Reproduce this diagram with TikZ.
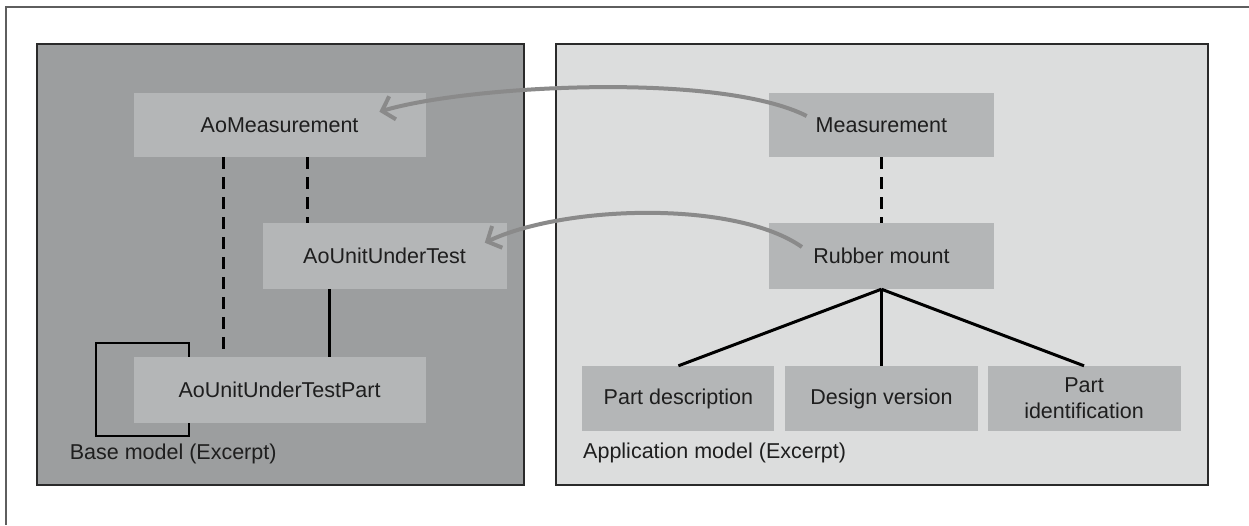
\documentclass[tikz,border=0pt]{standalone}
\usepackage{fontspec}
\setmainfont{Liberation Sans}
\usetikzlibrary{arrows.meta}

\definecolor{frameline}{HTML}{5E5E5E}
\definecolor{panelline}{HTML}{2A2A2A}
\definecolor{basebg}{HTML}{9C9E9F}
\definecolor{appbg}{HTML}{DCDDDD}
\definecolor{boxfill}{HTML}{B4B6B7}
\definecolor{linkgray}{HTML}{8A8A8A}
\definecolor{ink}{HTML}{1E1E1E}

\tikzset{
  panel/.style={draw=panelline, line width=2pt},
  entity/.style={rectangle, fill=boxfill, inner sep=0pt, text=ink,
    font=\fontsize{21.5}{26}\selectfont, align=center},
  caption/.style={anchor=west, inner sep=0pt, text=ink,
    font=\fontsize{21.5}{26}\selectfont},
  dashlink/.style={draw=black, line width=3pt, dash pattern=on 12pt off 8pt},
  solidlink/.style={draw=black, line width=3pt},
  looplink/.style={draw=black, line width=1.8pt},
  maplink/.style={draw=linkgray, line width=4pt,
    -{Straight Barb[length=11pt, width=24pt, line width=4pt]}},
}

\begin{document}
\begin{tikzpicture}[x=1pt, y=-1pt]
  \useasboundingbox (0,0) rectangle (1249,525);
  \fill[white] (0,0) rectangle (1249,525);

  % outer frame (top and left edges)
  \draw[frameline, line width=1.5pt] (1249,7) -- (6,7) -- (6,525);

  % panels
  \draw[panel, fill=basebg] (37,44) rectangle (523.6,485);
  \draw[panel, fill=appbg] (556.3,44) rectangle (1208.3,485);

  % self association of the unit-under-test part
  \draw[looplink] (189.3,357) -- (189.3,343) -- (95.7,343) -- (95.7,436)
    -- (189.3,436) -- (189.3,423);

  % base model entities
  \node[entity, minimum width=292pt, minimum height=64pt] (aomeas) at (279.6,125) {AoMeasurement};
  \node[entity, minimum width=244pt, minimum height=66pt] (aouut) at (384.5,256) {AoUnitUnderTest};
  \node[entity, minimum width=292pt, minimum height=66pt] (aopart) at (279.6,390) {AoUnitUnderTestPart};

  % application model entities
  \node[entity, minimum width=225pt, minimum height=64pt] (meas) at (881.4,125) {Measurement};
  \node[entity, minimum width=225pt, minimum height=66pt] (rubber) at (881.4,256) {Rubber mount};
  \node[entity, minimum width=192pt, minimum height=65pt] (pdesc) at (678.4,398.5) {Part description};
  \node[entity, minimum width=193pt, minimum height=65pt] (dver) at (881.4,398.5) {Design version};
  \node[entity, minimum width=193pt, minimum height=65pt] (pid) at (1084,398.5) {Part\\identification};

  % panel captions
  \node[caption] (basecap) at (69.6,454) {Base model (Excerpt)};
  \node[caption] (appcap) at (583,453) {Application model (Excerpt)};

  % base model relations
  \draw[dashlink] ([xshift=-56.4pt]aomeas.south) -- ([xshift=-56.4pt]aopart.north);
  \draw[dashlink] ([xshift=28.3pt]aomeas.south) -- ([xshift=28.3pt]aomeas.south |- aouut.north);
  \draw[solidlink] ([xshift=-55.5pt]aouut.south) -- ([xshift=-55.5pt]aouut.south |- aopart.north);

  % application model relations
  \draw[dashlink] (meas.south) -- (rubber.north);
  \draw[solidlink] (rubber.south) -- (pdesc.north);
  \draw[solidlink] (rubber.south) -- (dver.north);
  \draw[solidlink] (rubber.south) -- (pid.north);

  % mappings from application model to base model
  \draw[maplink] ([xshift=38pt, yshift=9pt]meas.west)
    .. controls (720,72) and (470,85) .. ([xshift=-46.4pt, yshift=13.3pt]aomeas.east);
  \draw[maplink] ([xshift=33.2pt, yshift=9pt]rubber.west)
    .. controls (735,200) and (565,205) .. ([xshift=-21.9pt, yshift=13.3pt]aouut.east);
\end{tikzpicture}
\end{document}
